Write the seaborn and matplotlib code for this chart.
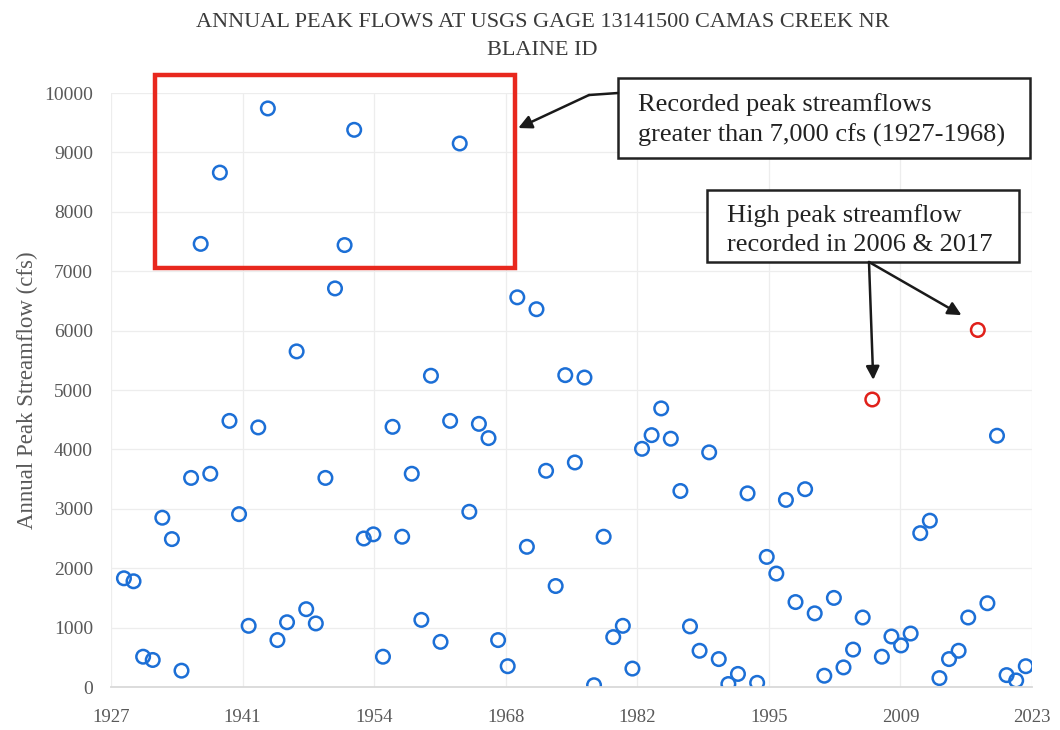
import numpy as np
import pandas as pd
import matplotlib
matplotlib.use("Agg")
import matplotlib.pyplot as plt
from matplotlib.patches import Rectangle
import seaborn as sns

# annual peak flows, water years 1928-2022 (cfs)
YEARS = list(range(1928, 2023))
PEAK_CFS = [
    1830, 1780, 510, 455, 2850, 2490, 275, 3520, 7460, 3590,
    8660, 4480, 2910, 1030, 4370, 9740, 790, 1090, 5650, 1310,
    1070, 3520, 6710, 7440, 9380, 2500, 2570, 510, 4380, 2530,
    3590, 1130, 5240, 760, 4480, 9150, 2950, 4430, 4190, 790,
    350, 6560, 2360, 6360, 3640, 1700, 5250, 3780, 5210, 30,
    2530, 840, 1030, 310, 4010, 4240, 4690, 4180, 3300, 1020,
    610, 3950, 470, 50, 220, 3260, 70, 2190, 1910, 3150,
    1430, 3330, 1240, 190, 1500, 330, 630, 1170, 4840, 510,
    850, 700, 900, 2590, 2800, 150, 470, 610, 1170, 6010,
    1410, 4230, 200, 110, 350,
]
HIGHLIGHT_YEARS = [2006, 2017]

X_TICK_LABELS = ["1927", "1941", "1954", "1968", "1982", "1995", "2009", "2023"]
Y_TICKS = list(range(0, 10001, 1000))

TITLE = "ANNUAL PEAK FLOWS AT USGS GAGE 13141500 CAMAS CREEK NR\nBLAINE ID"
Y_LABEL = "Annual Peak Streamflow (cfs)"
NOTE_OLD = "Recorded peak streamflows\ngreater than 7,000 cfs (1927-1968)"
NOTE_NEW = "High peak streamflow\nrecorded in 2006 & 2017"

BLUE = "#1c6fd6"
RED = "#e0201a"
GRAY = "#595959"

sns.set_style("white")
plt.rcParams["font.family"] = ["Liberation Serif", "DejaVu Serif"]

df = pd.DataFrame({"year": YEARS, "flow": PEAK_CFS})
df["group"] = np.where(df["year"].isin(HIGHLIGHT_YEARS), "high", "normal")

fig = plt.figure(figsize=(10.6, 7.3), dpi=100)
ax = fig.add_axes([0.1047, 0.0589, 0.8689, 0.8137])

# date axis runs 1927-2023, peaks fall in spring of each year
x0, x1 = 1927 - 0.35, 2023 - 0.35
xticks = np.linspace(x0, x1, len(X_TICK_LABELS))

ax.set_xlim(x0, x1)
ax.set_ylim(0, 10000)
ax.set_xticks(xticks)
ax.set_xticklabels(X_TICK_LABELS)
ax.set_yticks(Y_TICKS)
ax.grid(True, color="#ededed", lw=0.9)
ax.set_axisbelow(True)
for s in ["top", "right", "left"]:
    ax.spines[s].set_visible(False)
ax.spines["bottom"].set_color("#d9d9d9")
ax.spines["bottom"].set_linewidth(1.3)
ax.tick_params(axis="y", length=0, labelsize=14, labelcolor=GRAY, pad=13)
ax.tick_params(axis="x", length=0, labelsize=13.5, labelcolor=GRAY, pad=16)

sns.scatterplot(data=df, x="year", y="flow", hue="group",
                palette={"normal": BLUE, "high": RED},
                s=95, linewidth=1.8, legend=False, ax=ax)
# seaborn fills markers with hue colour; re-style as open circles
for coll in ax.collections:
    cols = coll.get_facecolors()
    coll.set_edgecolors(cols)
    coll.set_facecolors("none")

ax.set_xlabel("")
ax.set_ylabel(Y_LABEL, fontsize=16.5, color=GRAY, labelpad=4)
fig.text(0.512, 0.982, TITLE, ha="center", va="top", fontsize=16,
         color="#3a3a3a", linespacing=1.65)

# red frame round the big early floods
ax.add_patch(Rectangle((1931.25, 7050), 37.5, 3250, fill=False,
                       edgecolor="#e8281e", lw=3.2, clip_on=False, zorder=5))

# callout boxes
ax.add_patch(Rectangle((0.5505, 0.8906), 0.4473, 0.1347, transform=ax.transAxes,
                       fill=True, facecolor="white", edgecolor="#222", lw=1.8,
                       clip_on=False, zorder=6))
ax.text(0.5727, 0.955, NOTE_OLD, transform=ax.transAxes, ha="left", va="center",
        fontsize=19, color="#222", linespacing=1.4, zorder=7, clip_on=False)

ax.add_patch(Rectangle((0.6471, 0.7155), 0.3388, 0.1212, transform=ax.transAxes,
                       fill=True, facecolor="white", edgecolor="#222", lw=1.8,
                       clip_on=False, zorder=6))
ax.text(0.6688, 0.770, NOTE_NEW, transform=ax.transAxes, ha="left", va="center",
        fontsize=19, color="#222", linespacing=1.4, zorder=7, clip_on=False)

arrow = dict(arrowstyle="-|>", color="#1a1a1a", lw=1.8, mutation_scale=20,
             shrinkA=0, shrinkB=0)
ax.plot([0.5505, 0.519], [1.0, 0.9966], transform=ax.transAxes, color="#1a1a1a",
        lw=1.8, clip_on=False, zorder=6)
ax.annotate("", xy=(1969.1, 9410), xycoords="data",
            xytext=(0.519, 0.9966), textcoords="axes fraction",
            arrowprops=arrow, zorder=6, annotation_clip=False)
ax.annotate("", xy=(2006.1, 5170), xycoords="data",
            xytext=(0.823, 0.7155), textcoords="axes fraction",
            arrowprops=arrow, zorder=6)
ax.annotate("", xy=(2015.3, 6260), xycoords="data",
            xytext=(0.823, 0.7155), textcoords="axes fraction",
            arrowprops=arrow, zorder=6)

fig.savefig("out.png", dpi=100)
